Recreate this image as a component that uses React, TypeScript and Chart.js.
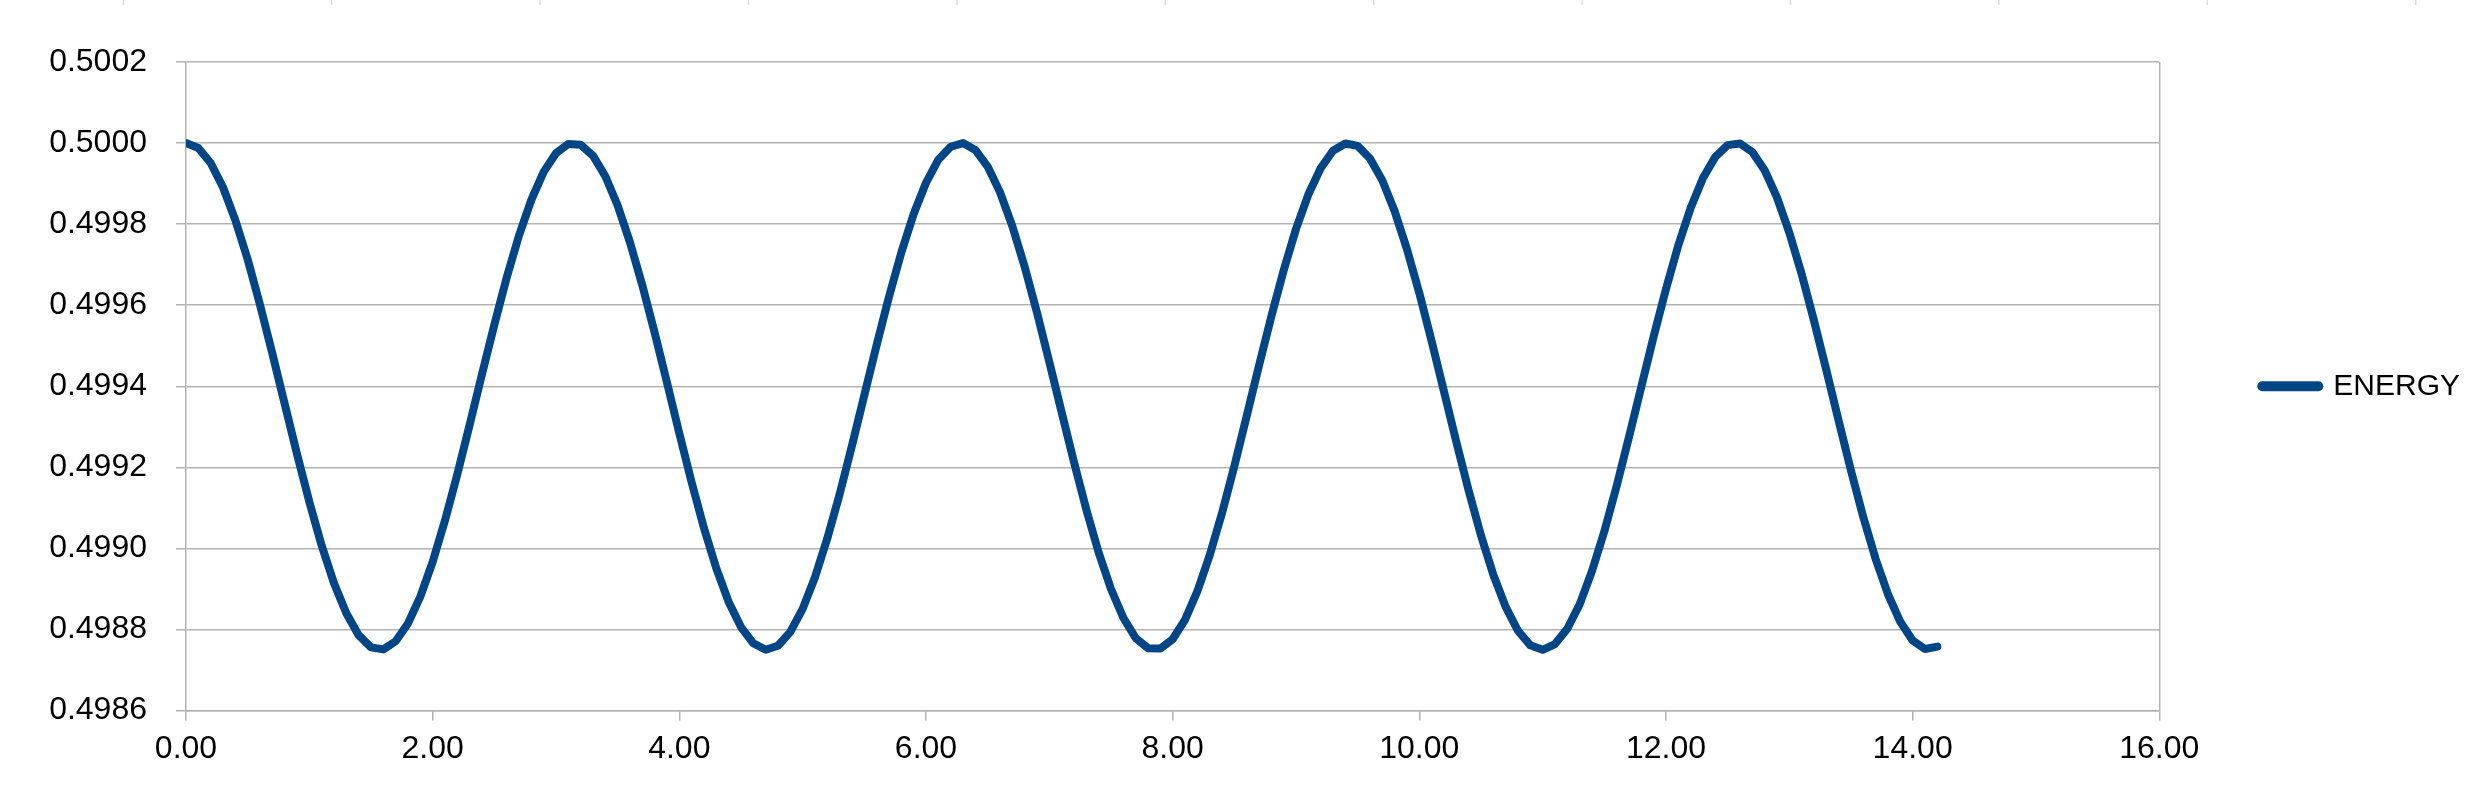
import React, { useEffect, useRef } from "react";
import { Chart, registerables } from "chart.js";

Chart.register(...registerables);

// ---- data ----
const TIME = [
  0.0, 0.1, 0.2, 0.3, 0.4, 0.5, 0.6, 0.7, 0.8, 0.9,
  1.0, 1.1, 1.2, 1.3, 1.4, 1.5, 1.6, 1.7, 1.8, 1.9,
  2.0, 2.1, 2.2, 2.3, 2.4, 2.5, 2.6, 2.7, 2.8, 2.9,
  3.0, 3.1, 3.2, 3.3, 3.4, 3.5, 3.6, 3.7, 3.8, 3.9,
  4.0, 4.1, 4.2, 4.3, 4.4, 4.5, 4.6, 4.7, 4.8, 4.9,
  5.0, 5.1, 5.2, 5.3, 5.4, 5.5, 5.6, 5.7, 5.8, 5.9,
  6.0, 6.1, 6.2, 6.3, 6.4, 6.5, 6.6, 6.7, 6.8, 6.9,
  7.0, 7.1, 7.2, 7.3, 7.4, 7.5, 7.6, 7.7, 7.8, 7.9,
  8.0, 8.1, 8.2, 8.3, 8.4, 8.5, 8.6, 8.7, 8.8, 8.9,
  9.0, 9.1, 9.2, 9.3, 9.4, 9.5, 9.6, 9.7, 9.8, 9.9,
  10.0, 10.1, 10.2, 10.3, 10.4, 10.5, 10.6, 10.7, 10.8, 10.9,
  11.0, 11.1, 11.2, 11.3, 11.4, 11.5, 11.6, 11.7, 11.8, 11.9,
  12.0, 12.1, 12.2, 12.3, 12.4, 12.5, 12.6, 12.7, 12.8, 12.9,
  13.0, 13.1, 13.2, 13.3, 13.4, 13.5, 13.6, 13.7, 13.8, 13.9,
  14.0, 14.1, 14.2,
];

const ENERGY = [
  0.5, 0.499988, 0.499951, 0.499891, 0.49981, 0.499713, 0.499601, 0.499481, 0.499357, 0.499233,
  0.499115, 0.499007, 0.498914, 0.49884, 0.498786, 0.498756, 0.498751, 0.498771, 0.498815, 0.498881,
  0.498967, 0.499069, 0.499183, 0.499305, 0.49943, 0.499552, 0.499668, 0.499772, 0.49986, 0.499929,
  0.499975, 0.499998, 0.499996, 0.499969, 0.499918, 0.499846, 0.499755, 0.499649, 0.499532, 0.499409,
  0.499284, 0.499163, 0.49905, 0.498951, 0.498868, 0.498806, 0.498766, 0.49875, 0.49876, 0.498794,
  0.498851, 0.498929, 0.499025, 0.499134, 0.499254, 0.499378, 0.499502, 0.499621, 0.49973, 0.499825,
  0.499902, 0.499959, 0.499991, 0.5, 0.499983, 0.499942, 0.499879, 0.499795, 0.499695, 0.499582,
  0.49946, 0.499336, 0.499213, 0.499096, 0.49899, 0.4989, 0.498829, 0.498779, 0.498754, 0.498753,
  0.498776, 0.498824, 0.498894, 0.498983, 0.499087, 0.499203, 0.499326, 0.499451, 0.499572, 0.499686,
  0.499788, 0.499873, 0.499938, 0.499981, 0.499999, 0.499993, 0.499962, 0.499908, 0.499832, 0.499738,
  0.49963, 0.499511, 0.499387, 0.499263, 0.499143, 0.499032, 0.498935, 0.498856, 0.498797, 0.498761,
  0.49875, 0.498764, 0.498802, 0.498862, 0.498944, 0.499042, 0.499154, 0.499275, 0.499399, 0.499523,
  0.49964, 0.499748, 0.49984, 0.499914, 0.499966, 0.499995, 0.499999, 0.499978, 0.499933, 0.499866,
  0.499779, 0.499677, 0.499562, 0.49944, 0.499315, 0.499192, 0.499077, 0.498974, 0.498887, 0.498819,
  0.498773, 0.498752, 0.498758,
];

const SERIES_LABEL = "ENERGY";
const X_MIN = 0;
const X_MAX = 16;
const X_STEP = 2;
const Y_MIN = 0.4986;
const Y_MAX = 0.5002;
const Y_STEP = 0.0002;

// ---- styles ----
const W = 2487;
const H = 810;
const FONT = "'Liberation Sans', Arimo, Arial, sans-serif";
const LINE_COLOR = "#004586";
const GRID_COLOR = "#b3b3b3";

const topMarks = {
  id: "topMarks",
  afterDraw(chart: any) {
    const ctx = chart.ctx;
    ctx.save();
    ctx.strokeStyle = "#dedede";
    ctx.lineWidth = 1.5;
    for (let k = 0; k < 12; k++) {
      const x = 123.3 + 208.4 * k;
      ctx.beginPath();
      ctx.moveTo(x, 0);
      ctx.lineTo(x, 5);
      ctx.stroke();
    }
    ctx.restore();
  },
};

export default function App() {
  const ref = useRef<HTMLCanvasElement | null>(null);

  useEffect(() => {
    if (!ref.current) return;
    const chart = new Chart(ref.current, {
      type: "line",
      data: {
        datasets: [
          {
            label: SERIES_LABEL,
            data: TIME.map((t, i) => ({ x: t, y: ENERGY[i] })),
            borderColor: LINE_COLOR,
            backgroundColor: LINE_COLOR,
            borderWidth: 8,
            borderCapStyle: "round",
            borderJoinStyle: "round",
            pointRadius: 0,
            tension: 0,
            fill: false,
          },
        ],
      },
      options: {
        responsive: false,
        animation: false,
        layout: { padding: { left: 0, top: 62, right: 17, bottom: 0 } },
        plugins: {
          tooltip: { enabled: false },
          legend: {
            position: "right",
            align: "center",
            fullSize: false,
            labels: {
              usePointStyle: true,
              pointStyle: "line",
              pointStyleWidth: 56,
              padding: 103,
              color: "#000",
              font: { family: FONT, size: 30 },
              generateLabels: (c: any) =>
                (Chart as any).defaults.plugins.legend.labels
                  .generateLabels(c)
                  .map((l: any) => ({ ...l, lineWidth: 10, lineCap: "round" })),
            },
          },
        },
        scales: {
          x: {
            type: "linear",
            min: X_MIN,
            max: X_MAX,
            afterFit: (s: any) => {
              s.height = 99.4;
            },
            ticks: {
              stepSize: X_STEP,
              color: "#000",
              padding: 9,
              maxRotation: 0,
              font: { family: FONT, size: 32 },
              callback: (v: any) => Number(v).toFixed(2),
            },
            grid: {
              color: (c: any) => (c.tick && c.tick.value === X_MAX ? GRID_COLOR : "rgba(0,0,0,0)"),
              tickColor: GRID_COLOR,
              lineWidth: 1.5,
              tickLength: 10,
            },
            border: { display: true, color: GRID_COLOR, width: 1.5 },
          },
          y: {
            type: "linear",
            min: Y_MIN,
            max: Y_MAX,
            afterFit: (s: any) => {
              s.width = 186;
            },
            ticks: {
              stepSize: Y_STEP,
              color: "#000",
              padding: 29,
              font: { family: FONT, size: 32 },
              callback: (v: any) => Number(v).toFixed(4),
            },
            grid: {
              color: GRID_COLOR,
              lineWidth: 1.5,
              tickLength: 10,
            },
            border: { display: true, color: GRID_COLOR, width: 1.5 },
          },
        },
      },
      plugins: [topMarks],
    } as any);
    return () => chart.destroy();
  }, []);

  return (
    <div style={{ position: "fixed", left: 0, top: 0, width: W, height: H, background: "#fff" }}>
      <canvas ref={ref} width={W} height={H} style={{ width: W, height: H, display: "block" }} />
    </div>
  );
}
